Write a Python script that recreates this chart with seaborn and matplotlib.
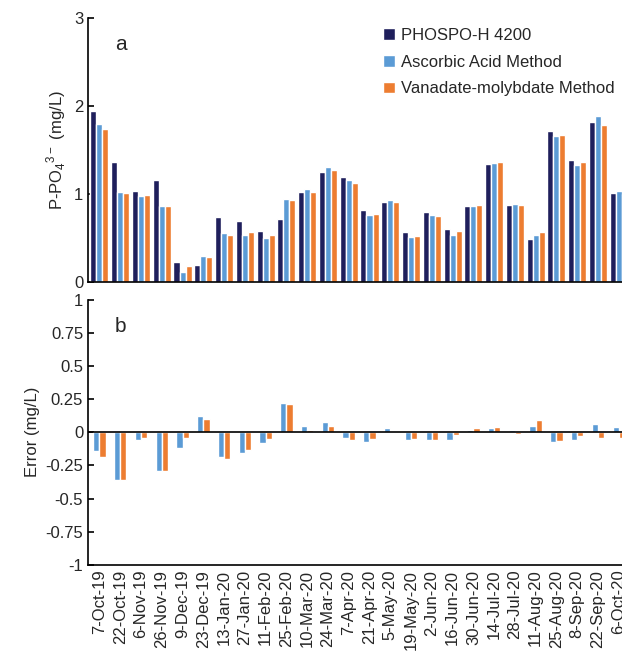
import numpy as np
import pandas as pd
import matplotlib
matplotlib.use("Agg")
import matplotlib.pyplot as plt
import seaborn as sns

sns.set_theme(style="white")
plt.rcParams['font.family'] = ['Liberation Sans', 'DejaVu Sans']

dates = ['7-Oct-19', '22-Oct-19', '6-Nov-19', '26-Nov-19', '9-Dec-19', '23-Dec-19',
         '13-Jan-20', '27-Jan-20', '11-Feb-20', '25-Feb-20', '10-Mar-20', '24-Mar-20',
         '7-Apr-20', '21-Apr-20', '5-May-20', '19-May-20', '2-Jun-20', '16-Jun-20',
         '30-Jun-20', '14-Jul-20', '28-Jul-20', '11-Aug-20', '25-Aug-20', '8-Sep-20',
         '22-Sep-20', '6-Oct-20']

phospo = [1.94, 1.37, 1.04, 1.16, 0.23, 0.19, 0.74, 0.70, 0.58, 0.72, 1.02, 1.25, 1.19,
          0.82, 0.91, 0.57, 0.80, 0.60, 0.86, 1.34, 0.88, 0.49, 1.72, 1.39, 1.82, 1.01]
ascorbic = [1.80, 1.02, 0.98, 0.87, 0.11, 0.30, 0.56, 0.54, 0.50, 0.94, 1.06, 1.31, 1.16,
            0.76, 0.93, 0.51, 0.76, 0.54, 0.865, 1.36, 0.89, 0.53, 1.66, 1.33, 1.89, 1.04]
vanadate = [1.74, 1.01, 0.99, 0.86, 0.18, 0.28, 0.54, 0.57, 0.53, 0.93, 1.03, 1.28, 1.13,
            0.78, 0.91, 0.52, 0.75, 0.58, 0.88, 1.37, 0.88, 0.57, 1.67, 1.37, 1.79, 1.00]

err_ascorbic = [-0.14, -0.36, -0.06, -0.29, -0.12, 0.12, -0.19, -0.16, -0.08, 0.22, 0.045, 0.08, -0.04,
                -0.07, 0.03, -0.055, -0.055, -0.055, 0.02, 0.03, 0.02, 0.05, -0.07, -0.06, 0.06, 0.04]
err_vanadate = [-0.19, -0.36, -0.04, -0.29, -0.04, 0.10, -0.20, -0.13, -0.05, 0.21, 0.02, 0.045, -0.055,
                -0.05, 0.01, -0.05, -0.06, -0.02, 0.03, 0.04, -0.01, 0.09, -0.065, -0.025, -0.045, -0.04]

names = ['PHOSPO-H 4200', 'Ascorbic Acid Method', 'Vanadate-molybdate Method']
colors = ['#1f1f5c', '#5b9bd5', '#ed7d31']

conc = pd.DataFrame({
    'date': dates * 3,
    'value': phospo + ascorbic + vanadate,
    'method': [names[0]] * 26 + [names[1]] * 26 + [names[2]] * 26,
})
errs = pd.DataFrame({
    'date': dates * 2,
    'value': err_ascorbic + err_vanadate,
    'method': [names[1]] * 26 + [names[2]] * 26,
})

fig = plt.figure(figsize=(6.22, 6.53), dpi=100)
ax1 = fig.add_axes([0.1415, 0.568, 0.87, 0.404])
ax2 = fig.add_axes([0.1415, 0.135, 0.87, 0.406])

sns.barplot(data=conc, x='date', y='value', hue='method', palette=colors,
            width=0.87, saturation=1, ax=ax1)
sns.barplot(data=errs, x='date', y='value', hue='method', palette=colors[1:],
            width=0.6, saturation=1, ax=ax2, legend=False)

for ax in (ax1, ax2):
    ax.set_xlim(-0.55, 25.3)
    ax.spines['top'].set_visible(False)
    ax.spines['right'].set_visible(False)
    for s in ('left', 'bottom'):
        ax.spines[s].set_color('black')
        ax.spines[s].set_linewidth(1.2)
    ax.set_xticks(np.arange(len(dates)) + 0.5, minor=True)
    ax.tick_params(axis='x', which='minor', direction='in', length=4, width=1.2, color='black')
    ax.tick_params(axis='y', direction='in', length=4, width=1.2, color='black',
                   left=True, labelsize=12)
    ax.set_xlabel('')

ax1.set_ylim(0, 3)
ax1.set_yticks([0, 1, 2, 3])
ax1.set_xticks([])
ax1.set_ylabel(r'P-PO$_\mathregular{4}$$^\mathregular{3-}$ (mg/L)', fontsize=12)
ax1.text(0.05, 0.88, 'a', transform=ax1.transAxes, fontsize=15)
ax1.legend(loc='upper right', bbox_to_anchor=(1.0, 1.02), frameon=False, fontsize=12,
           handlelength=0.7, handleheight=0.7, handletextpad=0.35, labelspacing=0.7)

ax2.set_ylim(-1, 1)
ax2.set_yticks([-1, -0.75, -0.5, -0.25, 0, 0.25, 0.5, 0.75, 1])
ax2.set_yticklabels(['-1', '-0.75', '-0.5', '-0.25', '0', '0.25', '0.5', '0.75', '1'])
ax2.axhline(0, color='black', linewidth=1.2)
ax2.set_ylabel('Error (mg/L)', fontsize=12)
ax2.text(0.05, 0.88, 'b', transform=ax2.transAxes, fontsize=15)
ax2.tick_params(axis='x', which='major', length=0, labelsize=12, rotation=90)

fig.savefig('out.png', dpi=100)
